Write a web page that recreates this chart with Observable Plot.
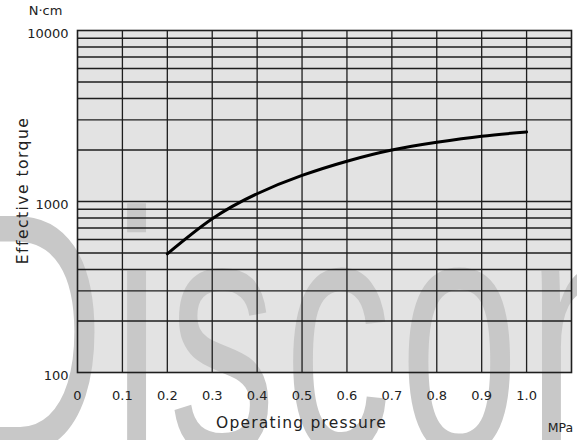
<!DOCTYPE html>
<html>
<head>
<meta charset="utf-8">
<script src="https://cdn.jsdelivr.net/npm/d3@7"></script>
<script src="https://cdn.jsdelivr.net/npm/@observablehq/plot@0.6"></script>
<style>
  html, body { margin: 0; padding: 0; background: #fff; overflow: hidden; }
  svg { display: block; }
</style>
</head>
<body>
<div id="chart"></div>
<script>
// ---- data ----
const pressure = [0.2, 0.3, 0.4, 0.5, 0.6, 0.7, 0.8, 0.9, 1.0];          // MPa
const torque   = [494, 792, 1110, 1420, 1720, 2000, 2220, 2410, 2550];    // N·cm

const xTicks      = [0, 0.1, 0.2, 0.3, 0.4, 0.5, 0.6, 0.7, 0.8, 0.9, 1.0];
const xTickLabels = ["0", "0.1", "0.2", "0.3", "0.4", "0.5", "0.6", "0.7", "0.8", "0.9", "1.0"];
const xGrid       = [0.1, 0.2, 0.3, 0.4, 0.5, 0.6, 0.7, 0.8, 0.9, 1.0];
const yTicks      = [100, 1000, 10000];
const yTickLabels = ["100", "1000", "10000"];
const yGrid       = [200, 300, 400, 500, 600, 700, 800, 900, 1000,
                     2000, 3000, 4000, 5000, 6000, 7000, 8000, 9000];
const xDomain = [0, 1.1];
const yDomain = [100, 10000];

const xTitle = "Operating pressure";
const xUnit  = "MPa";
const yTitle = "Effective torque";
const yUnit  = "N·cm";
const watermark = "Discon";

const data = pressure.map((p, i) => ({p, t: torque[i]}));

const svg = Plot.plot({
  width: 577,
  height: 440,
  marginLeft: 77,
  marginRight: 6,
  marginTop: 30,
  marginBottom: 68,
  style: {fontFamily: "'DejaVu Sans', sans-serif", fontSize: "13px", color: "#222", background: "#fff"},
  x: {domain: xDomain, axis: null},
  y: {type: "log", domain: yDomain, axis: null},
  marks: [
    Plot.frame({fill: "#e3e3e3", stroke: "none"}),
    Plot.text([watermark], {
      frameAnchor: "bottom-left", textAnchor: "start", lineAnchor: "middle",
      dx: -128, dy: -30, fontSize: 215, fontFamily: "'Liberation Sans', Arial, sans-serif",
      fill: "#c8c8c8"
    }),
    Plot.ruleX(xGrid, {stroke: "#1e1e1e", strokeWidth: 1.3}),
    Plot.ruleY(yGrid, {stroke: "#1e1e1e", strokeWidth: 1.4}),
    Plot.frame({stroke: "#1e1e1e", strokeWidth: 1.6}),
    Plot.line(data, {x: "p", y: "t", curve: "natural", stroke: "#000", strokeWidth: 3}),
    Plot.axisX({ticks: xTicks, tickFormat: d => xTickLabels[xTicks.indexOf(d)], label: null,
                tickSize: 0, tickPadding: 18, fontSize: 13, fill: "#222"}),
    Plot.axisY({ticks: yTicks, tickFormat: d => yTickLabels[yTicks.indexOf(d)], label: null,
                tickSize: 0, tickPadding: 9, dy: 3, fontSize: 13, fill: "#222"}),
    Plot.text([yUnit], {frameAnchor: "top-left", textAnchor: "middle", lineAnchor: "middle",
                        dx: -32, dy: -20, fontSize: 13, fill: "#222"}),
    Plot.text([xTitle], {frameAnchor: "bottom", textAnchor: "middle", lineAnchor: "middle",
                         dx: -23, dy: 51, fontSize: 15.5, fill: "#222"}),
    Plot.text([xUnit], {frameAnchor: "bottom-right", textAnchor: "middle", lineAnchor: "middle",
                        dx: -11, dy: 55, fontSize: 12.5, fill: "#222"}),
    Plot.text([yTitle], {frameAnchor: "left", textAnchor: "middle", lineAnchor: "middle", rotate: -90,
                         dx: -54, dy: -11, fontSize: 15.5, fill: "#222"})
  ]
});

// styling touches matched by text content
svg.querySelectorAll("text").forEach(t => {
  const s = t.textContent;
  if (s === watermark) {
    // vertically stretched lettering, slightly spaced
    const tr = t.getAttribute("transform") || "";
    const xa = t.getAttribute("x"), ya = t.getAttribute("y");
    let pre = "";
    if (xa !== null && xa !== "" && !isNaN(+xa)) { pre += ` translate(${+xa},0)`; t.removeAttribute("x"); }
    if (ya !== null && ya !== "" && !isNaN(+ya)) { pre += ` translate(0,${+ya})`; t.removeAttribute("y"); }
    t.setAttribute("transform", `${tr}${pre} scale(1,1.6)`);
    t.setAttribute("letter-spacing", "8");
  } else if (s === xTitle) {
    t.setAttribute("letter-spacing", "1.2");
  } else if (s === yTitle) {
    t.setAttribute("letter-spacing", "1.5");
  }
});

document.getElementById("chart").appendChild(svg);
</script>
</body>
</html>
